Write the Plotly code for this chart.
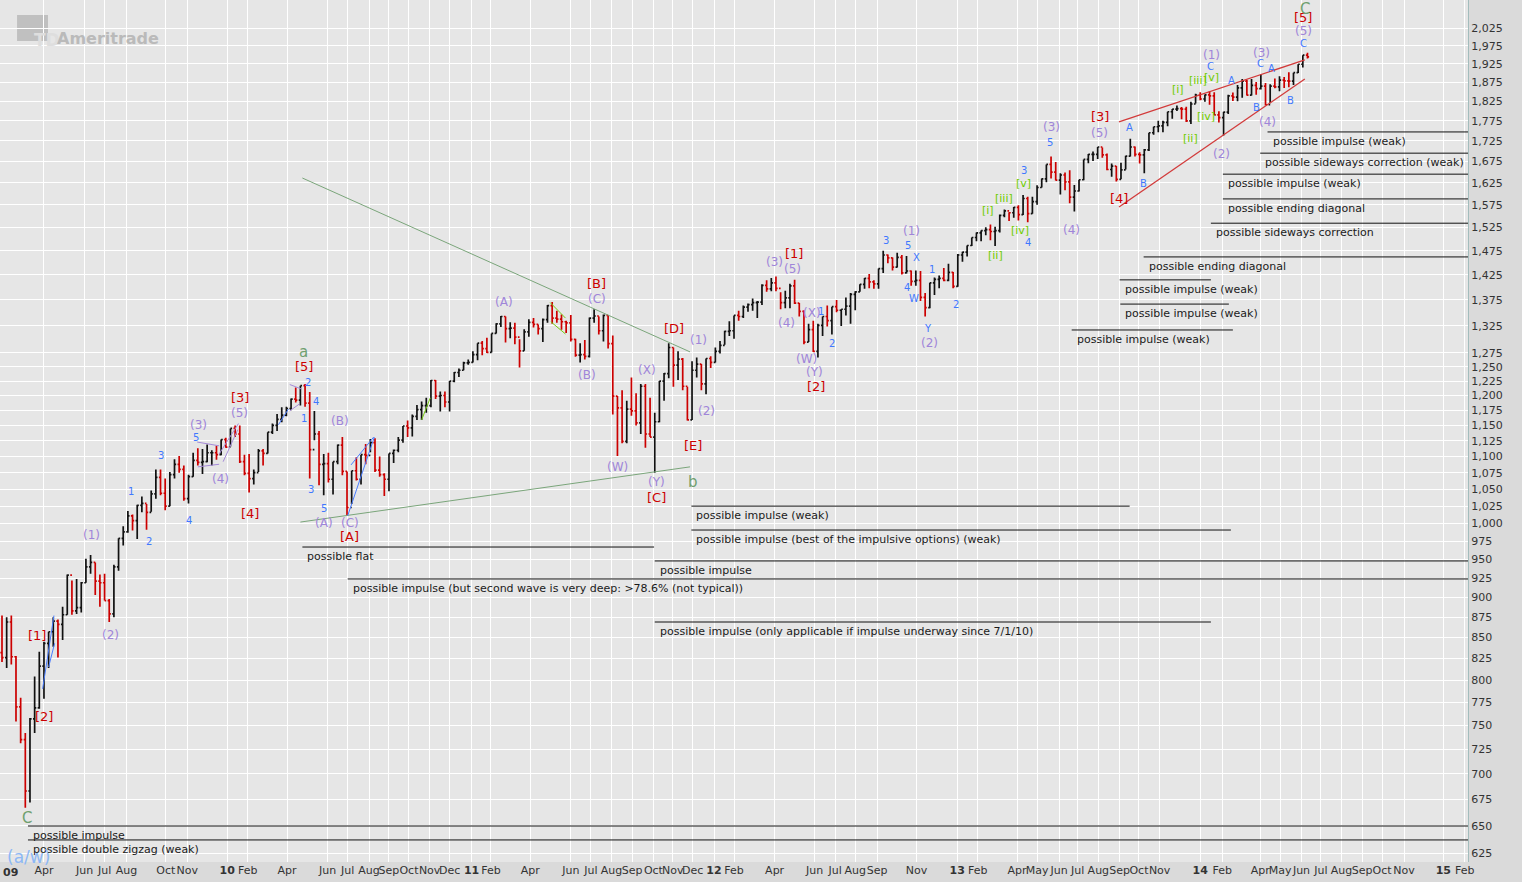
import math
import pandas as pd
import plotly.graph_objects as go

# weekly S&P 500 bars (one bar per week)
first_open = 832

high_2009 = [877, 875, 877, 828, 780, 742, 758, 804, 833, 845, 857, 875, 872, 888, 930, 922, 924,
             920, 951, 956, 946, 930, 931, 898, 943, 979, 996, 1018, 1013, 1027, 1039, 1028, 1048,
             1080, 1080, 1066, 1076, 1096, 1101, 1086, 1072, 1106, 1113, 1112, 1119, 1110, 1117,
             1127, 1130]
low_2009 = [821, 814, 818, 754, 731, 667, 672, 742, 768, 779, 814, 839, 826, 847, 878, 878, 879,
            881, 919, 931, 903, 888, 896, 869, 875, 935, 969, 987, 990, 978, 1016, 991, 1017, 1036,
            1041, 1019, 1025, 1066, 1075, 1033, 1029, 1069, 1086, 1073, 1091, 1086, 1095, 1102, 1114]
close_2009 = [826, 869, 827, 770, 735, 683, 757, 769, 816, 843, 857, 870, 866, 878, 929, 883, 887,
              919, 940, 946, 921, 919, 896, 879, 940, 979, 988, 1011, 1004, 1026, 1029, 1016, 1043,
              1068, 1044, 1025, 1072, 1088, 1080, 1036, 1069, 1094, 1091, 1092, 1106, 1106, 1103,
              1127, 1115]

high_2010 = [1145, 1150, 1150, 1103, 1104, 1080, 1112, 1112, 1139, 1153, 1169, 1180, 1181, 1195,
             1214, 1217, 1220, 1206, 1174, 1141, 1104, 1106, 1092, 1119, 1131, 1077, 1078, 1099,
             1103, 1120, 1128, 1129, 1100, 1074, 1105, 1111, 1131, 1149, 1158, 1168, 1184, 1190,
             1196, 1227, 1227, 1207, 1207, 1225, 1241, 1247, 1259, 1263]
low_2010 = [1116, 1131, 1090, 1071, 1045, 1057, 1076, 1086, 1105, 1136, 1141, 1155, 1165, 1175,
            1188, 1183, 1181, 1066, 1126, 1056, 1041, 1060, 1042, 1088, 1071, 1011, 1028, 1063,
            1057, 1088, 1107, 1076, 1069, 1040, 1047, 1090, 1107, 1122, 1131, 1132, 1159, 1159,
            1171, 1180, 1194, 1173, 1180, 1173, 1223, 1232, 1244, 1254]
close_2010 = [1145, 1136, 1092, 1074, 1066, 1075, 1109, 1105, 1139, 1150, 1160, 1167, 1178, 1194,
              1192, 1217, 1187, 1111, 1136, 1088, 1089, 1065, 1092, 1118, 1077, 1023, 1078, 1065,
              1103, 1102, 1122, 1079, 1072, 1065, 1105, 1110, 1126, 1149, 1146, 1165, 1176, 1183,
              1183, 1226, 1199, 1200, 1189, 1225, 1240, 1244, 1257, 1258]

high_2011 = [1278, 1293, 1297, 1303, 1311, 1330, 1344, 1343, 1332, 1331, 1300, 1319, 1338, 1340,
             1328, 1339, 1365, 1371, 1354, 1347, 1335, 1346, 1301, 1293, 1299, 1341, 1357, 1343,
             1347, 1346, 1307, 1199, 1209, 1191, 1231, 1204, 1220, 1220, 1196, 1171, 1225, 1239,
             1293, 1285, 1278, 1266, 1215, 1260, 1267, 1255, 1265, 1269]
low_2011 = [1258, 1262, 1271, 1275, 1276, 1311, 1323, 1294, 1302, 1291, 1249, 1279, 1305, 1322,
            1309, 1295, 1331, 1329, 1331, 1318, 1312, 1296, 1268, 1258, 1263, 1267, 1331, 1309,
            1296, 1283, 1168, 1101, 1121, 1121, 1166, 1150, 1136, 1114, 1131, 1075, 1155, 1191,
            1230, 1215, 1227, 1209, 1158, 1159, 1231, 1209, 1202, 1248]
close_2011 = [1272, 1293, 1283, 1276, 1311, 1329, 1343, 1320, 1321, 1304, 1279, 1314, 1332, 1328,
              1320, 1337, 1364, 1340, 1338, 1333, 1331, 1300, 1271, 1272, 1269, 1340, 1344, 1316,
              1345, 1292, 1199, 1179, 1124, 1177, 1174, 1154, 1216, 1136, 1131, 1156, 1225, 1238,
              1285, 1253, 1264, 1216, 1159, 1244, 1255, 1220, 1265, 1258]

high_2012 = [1285, 1297, 1316, 1334, 1345, 1354, 1364, 1368, 1378, 1373, 1406, 1414, 1419, 1422,
             1390, 1393, 1407, 1415, 1369, 1355, 1329, 1335, 1329, 1343, 1364, 1362, 1375, 1357,
             1380, 1389, 1392, 1406, 1419, 1427, 1414, 1438, 1475, 1467, 1461, 1471, 1466, 1464,
             1434, 1434, 1433, 1389, 1409, 1420, 1424, 1439, 1448, 1431]
low_2012 = [1258, 1274, 1290, 1306, 1301, 1335, 1340, 1352, 1354, 1340, 1365, 1391, 1392, 1392,
            1357, 1359, 1359, 1367, 1343, 1291, 1295, 1277, 1267, 1306, 1324, 1309, 1351, 1325,
            1345, 1329, 1355, 1391, 1397, 1398, 1397, 1397, 1429, 1449, 1434, 1440, 1426, 1428,
            1403, 1403, 1373, 1343, 1359, 1385, 1398, 1412, 1412, 1398]
close_2012 = [1278, 1289, 1315, 1316, 1345, 1343, 1361, 1366, 1370, 1371, 1404, 1397, 1409, 1398,
              1370, 1379, 1403, 1369, 1353, 1295, 1318, 1278, 1326, 1343, 1335, 1362, 1355, 1357,
              1363, 1386, 1391, 1406, 1418, 1411, 1407, 1438, 1466, 1460, 1441, 1461, 1429, 1433,
              1412, 1414, 1380, 1360, 1409, 1416, 1418, 1414, 1430, 1402]

high_2013 = [1468, 1473, 1486, 1503, 1514, 1518, 1525, 1531, 1526, 1553, 1564, 1558, 1570, 1574,
             1597, 1593, 1593, 1619, 1635, 1668, 1687, 1674, 1647, 1649, 1654, 1620, 1632, 1680,
             1693, 1699, 1710, 1709, 1694, 1670, 1664, 1672, 1689, 1730, 1711, 1697, 1705, 1745,
             1760, 1775, 1775, 1798, 1805, 1814, 1810, 1811, 1824, 1845]
low_2013 = [1401, 1452, 1463, 1485, 1495, 1495, 1508, 1497, 1485, 1514, 1547, 1539, 1546, 1540,
            1552, 1536, 1555, 1575, 1614, 1626, 1635, 1630, 1598, 1608, 1578, 1560, 1605, 1631,
            1671, 1676, 1681, 1684, 1654, 1639, 1628, 1633, 1656, 1687, 1687, 1670, 1647, 1700,
            1740, 1746, 1746, 1761, 1780, 1800, 1779, 1772, 1767, 1819]
close_2013 = [1466, 1472, 1486, 1503, 1513, 1518, 1520, 1516, 1518, 1551, 1561, 1557, 1569, 1553,
              1589, 1555, 1582, 1614, 1634, 1668, 1650, 1631, 1643, 1627, 1592, 1606, 1632, 1680,
              1692, 1692, 1710, 1691, 1656, 1664, 1633, 1655, 1688, 1710, 1692, 1691, 1703, 1745,
              1760, 1762, 1771, 1798, 1805, 1806, 1805, 1775, 1818, 1841]

high_2014 = [1849, 1843, 1851, 1849, 1799, 1798, 1842, 1848, 1868, 1884, 1882, 1884, 1876, 1897,
             1873, 1870, 1885, 1891, 1889, 1902, 1901, 1924, 1949, 1956]
low_2014 = [1828, 1824, 1816, 1790, 1771, 1738, 1792, 1826, 1825, 1834, 1840, 1840, 1842, 1856,
            1814, 1820, 1859, 1851, 1860, 1862, 1868, 1900, 1915, 1940]
close_2014 = [1831, 1842, 1839, 1790, 1783, 1797, 1839, 1836, 1860, 1878, 1841, 1867, 1858, 1865,
              1816, 1865, 1863, 1881, 1879, 1878, 1901, 1924, 1949, 1944]

# x-axis months that carry a label + gridline
tick_months = ["2009-04", "2009-06", "2009-07", "2009-08", "2009-10", "2009-11",
               "2010-01", "2010-02", "2010-04", "2010-06", "2010-07", "2010-08", "2010-09",
               "2010-10", "2010-11", "2010-12",
               "2011-01", "2011-02", "2011-04", "2011-06", "2011-07", "2011-08", "2011-09",
               "2011-10", "2011-11", "2011-12",
               "2012-01", "2012-02", "2012-04", "2012-06", "2012-07", "2012-08", "2012-09",
               "2012-11",
               "2013-01", "2013-02", "2013-04", "2013-05", "2013-06", "2013-07", "2013-08",
               "2013-09", "2013-10", "2013-11",
               "2014-01", "2014-02", "2014-04", "2014-05", "2014-06", "2014-07", "2014-08",
               "2014-09", "2014-10", "2014-11",
               "2015-01", "2015-02"]

y_ticks = [625, 650, 675, 700, 725, 750, 775, 800, 825, 850, 875, 900, 925, 950, 975, 1000,
           1025, 1050, 1075, 1100, 1125, 1150, 1175, 1200, 1225, 1250, 1275, 1325, 1375, 1425,
           1475, 1525, 1575, 1625, 1675, 1725, 1775, 1825, 1875, 1925, 1975, 2025]

# wave labels: (text, date, price)
red_labels = [("[1]", "2009-03-21", 852), ("[2]", "2009-04-01", 759), ("[3]", "2010-01-20", 1197),
              ("[4]", "2010-02-04", 1015), ("[5]", "2010-04-27", 1250), ("[A]", "2010-07-04", 981),
              ("[B]", "2011-07-10", 1407), ("[C]", "2011-10-07", 1037), ("[D]", "2011-11-03", 1321),
              ("[E]", "2011-12-01", 1117), ("[1]", "2012-05-01", 1470), ("[2]", "2012-06-03", 1215),
              ("[3]", "2013-08-03", 1785), ("[4]", "2013-09-01", 1588), ("[5]", "2014-06-05", 2057)]
purple_labels = [("(1)", "2009-06-12", 984), ("(2)", "2009-07-10", 853), ("(3)", "2009-11-19", 1150),
                 ("(4)", "2009-12-22", 1065), ("(5)", "2010-01-19", 1170), ("(A)", "2010-05-27", 1001),
                 ("(B)", "2010-06-19", 1157), ("(C)", "2010-07-04", 1001), ("(A)", "2011-02-20", 1371),
                 ("(C)", "2011-07-10", 1377), ("(B)", "2011-06-26", 1236), ("(W)", "2011-08-10", 1084),
                 ("(X)", "2011-09-23", 1245), ("(Y)", "2011-10-07", 1061), ("(1)", "2011-12-10", 1299),
                 ("(2)", "2011-12-22", 1174), ("(3)", "2012-04-02", 1451), ("(5)", "2012-04-29", 1437),
                 ("(4)", "2012-04-20", 1331), ("(X)", "2012-05-28", 1350), ("(W)", "2012-05-20", 1264),
                 ("(Y)", "2012-06-01", 1241), ("(1)", "2012-10-25", 1517), ("(2)", "2012-11-20", 1293),
                 ("(3)", "2013-05-23", 1759), ("(4)", "2013-06-22", 1519), ("(5)", "2013-08-03", 1744),
                 ("(1)", "2014-01-18", 1949), ("(2)", "2014-02-02", 1693), ("(3)", "2014-04-03", 1955),
                 ("(4)", "2014-04-12", 1772), ("(5)", "2014-06-05", 2018)]
blue_labels = [("1", "2009-08-09", 1046), ("2", "2009-09-05", 975), ("3", "2009-09-23", 1102),
               ("4", "2009-11-05", 1004), ("5", "2009-11-16", 1130), ("2", "2010-05-02", 1222),
               ("4", "2010-05-14", 1189), ("1", "2010-04-27", 1161), ("3", "2010-05-07", 1050),
               ("5", "2010-05-26", 1021), ("1", "2012-06-10", 1352), ("2", "2012-06-27", 1292),
               ("3", "2012-09-16", 1496), ("5", "2012-10-19", 1487), ("X", "2012-11-01", 1460),
               ("4", "2012-10-17", 1399), ("W", "2012-10-28", 1377), ("1", "2012-11-25", 1437),
               ("Y", "2012-11-19", 1321), ("2", "2012-12-30", 1367), ("4", "2013-04-18", 1493),
               ("3", "2013-04-12", 1653), ("5", "2013-05-20", 1722), ("A", "2013-09-17", 1757),
               ("B", "2013-10-08", 1624), ("C", "2014-01-17", 1919), ("A", "2014-02-17", 1881),
               ("C", "2014-04-02", 1925), ("A", "2014-04-18", 1911), ("B", "2014-03-27", 1810),
               ("B", "2014-05-17", 1828), ("C", "2014-06-05", 1983)]
lime_labels = [("[i]", "2013-02-17", 1561), ("[ii]", "2013-02-27", 1464), ("[iii]", "2013-03-13", 1588),
               ("[iv]", "2013-04-06", 1519), ("[v]", "2013-04-11", 1624), ("[i]", "2013-11-28", 1857),
               ("[ii]", "2013-12-17", 1732), ("[iii]", "2013-12-29", 1879), ("[iv]", "2014-01-09", 1785),
               ("[v]", "2014-01-18", 1889)]
green_labels = [("C", "2009-03-06", 657), ("a", "2010-04-26", 1277), ("b", "2011-12-01", 1061),
                ("C", "2014-06-08", 2083)]
sky_labels = [("(a/w)", "2009-03-09", 622)]

# drawn trend lines: ((date, price), (date, price))
green_lines = [(("2010-04-24", 1636), ("2011-11-27", 1277)),
               (("2010-04-21", 1002), ("2011-11-27", 1084))]
red_lines = [(("2013-09-01", 1772), ("2014-06-07", 1936)),
             (("2013-09-01", 1570), ("2014-06-07", 1884))]
blue_lines = [(("2009-03-30", 790), ("2009-04-16", 877)), (("2009-04-08", 815), ("2009-04-17", 843)),
              (("2010-07-01", 1011), ("2010-08-10", 1131)), (("2010-07-06", 1087), ("2010-08-09", 1131)),
              (("2010-03-19", 1151), ("2010-04-03", 1177))]
purple_lines = [(("2009-11-17", 1123), ("2009-12-20", 1117)), (("2009-11-18", 1084), ("2009-12-20", 1088)),
                (("2009-12-20", 1104), ("2010-01-18", 1153)), (("2009-12-26", 1092), ("2010-01-17", 1143)),
                (("2010-04-05", 1219), ("2010-04-23", 1211)), (("2010-04-05", 1174), ("2010-04-20", 1186))]
lime_lines = [(("2010-10-20", 1159), ("2010-11-02", 1196)), (("2011-05-01", 1370), ("2011-05-24", 1340)),
              (("2011-05-02", 1333), ("2011-05-24", 1310))]

# "possible ..." levels: (text, start, end or None = to the right edge, price)
count_levels = [
    ("possible impulse (weak)", "2014-04-12", None, 1747),
    ("possible sideways correction (weak)", "2014-04-01", None, 1695),
    ("possible impulse (weak)", "2014-02-04", None, 1645),
    ("possible ending diagonal", "2014-02-04", None, 1588),
    ("possible sideways correction", "2014-01-17", None, 1534),
    ("possible ending diagonal", "2013-10-08", None, 1462),
    ("possible impulse (weak)", "2013-09-02", "2014-01-17", 1415),
    ("possible impulse (weak)", "2013-09-03", "2014-02-13", 1367),
    ("possible impulse (weak)", "2013-06-22", "2014-02-19", 1317.5),
    ("possible impulse (weak)", "2011-11-29", "2013-09-17", 1025),
    ("possible impulse (best of the impulsive options) (weak)", "2011-11-29", "2014-02-16", 990.7),
    ("possible flat", "2010-04-24", "2011-10-04", 967),
    ("possible impulse", "2011-10-05", None, 948),
    ("possible impulse (but second wave is very deep: >78.6% (not typical))", "2010-07-01", None, 924),
    ("possible impulse (only applicable if impulse underway since 7/1/10)", "2011-10-05", "2014-01-17", 869),
    ("possible impulse", "2009-03-08", None, 649.8),
    ("possible double zigzag (weak)", "2009-03-08", None, 637),
]

x_start, x_end = "2009-01-25", "2015-02-07"

closes = close_2009 + close_2010 + close_2011 + close_2012 + close_2013 + close_2014
highs = high_2009 + high_2010 + high_2011 + high_2012 + high_2013 + high_2014
lows = low_2009 + low_2010 + low_2011 + low_2012 + low_2013 + low_2014
opens = [first_open] + closes[:-1]
weeks = pd.date_range("2009-01-28", periods=len(closes), freq="7D")

fig = go.Figure()
fig.add_trace(go.Ohlc(
    x=weeks, open=opens, high=highs, low=lows, close=closes,
    increasing=dict(line=dict(color="#111111", width=1.7)),
    decreasing=dict(line=dict(color="#cc0000", width=1.7)),
    tickwidth=0.35, hoverinfo="skip",
))


def add_segments(segs, color, width=1):
    xs, ys = [], []
    for (xa, ya), (xb, yb) in segs:
        xs += [xa, xb, None]
        ys += [ya, yb, None]
    fig.add_trace(go.Scatter(x=xs, y=ys, mode="lines", hoverinfo="skip",
                             line=dict(color=color, width=width)))


add_segments(green_lines, "#7aa57a")
add_segments(red_lines, "#d23a3a", 1.3)
add_segments(blue_lines, "#4a7dff")
add_segments(purple_lines, "#a58ad8")
add_segments(lime_lines, "#77cc11")
add_segments([((s, p), (e or x_end, p)) for _, s, e, p in count_levels], "#111111")

for text, s, e, p in count_levels:
    fig.add_annotation(x=s, y=math.log10(p), text=text, showarrow=False,
                       xanchor="left", yanchor="top", xshift=3, yshift=-1,
                       font=dict(size=11, color="#1a1a1a"))

styles = [(red_labels, "#cc0000", 13), (purple_labels, "#9f85d9", 12),
          (blue_labels, "#3f78ff", 10), (lime_labels, "#6fcc00", 11),
          (green_labels, "#6f9f6f", 15), (sky_labels, "#8db8f5", 17)]
for labels, color, size in styles:
    for text, d, p in labels:
        fig.add_annotation(x=d, y=math.log10(p), text=text, showarrow=False,
                           font=dict(size=size, color=color))

# x tick labels: bold two-digit year on January, month name otherwise
tickvals, ticktext = [], []
for m in tick_months:
    d = pd.Timestamp(m + "-01")
    while d.weekday() >= 5:
        d += pd.Timedelta(days=1)
    tickvals.append(d)
    ticktext.append(f"<b>{d:%y}</b>" if d.month == 1 else f"{d:%b}")

fig.add_annotation(xref="paper", yref="paper", x=0.001, y=0, yshift=-2, xanchor="left",
                   yanchor="top", text="<b>09</b>", showarrow=False,
                   font=dict(size=11, color="#333333"))

# TD Ameritrade watermark
fig.add_shape(type="rect", xref="paper", yref="paper", x0=0.0116, x1=0.0327, y0=0.9524, y1=0.9826,
              fillcolor="#c0c0c0", line_width=0, layer="below")
fig.add_annotation(xref="paper", yref="paper", x=0.0221, y=0.9675, text="<b>TD</b>",
                   showarrow=False, font=dict(size=17, color="#dedede"))
fig.add_annotation(xref="paper", yref="paper", x=0.0375, y=0.9687, xanchor="left",
                   text="<b>Ameritrade</b>", showarrow=False,
                   font=dict(size=16, color="#bababa"))

fig.update_layout(
    width=1522, height=882,
    margin=dict(l=0, r=54, t=0, b=20),
    showlegend=False, hovermode=False,
    plot_bgcolor="#e6e6e6", paper_bgcolor="#dadada",
    font=dict(family="DejaVu Sans", size=11, color="#333333"),
)
fig.update_xaxes(type="date", range=[x_start, x_end], rangeslider_visible=False,
                 tickvals=tickvals, ticktext=ticktext, tickangle=0,
                 showgrid=True, gridcolor="#ffffff", gridwidth=1.3,
                 zeroline=False, ticks="", automargin=False,
                 tickfont=dict(size=11, color="#333333"))
fig.update_yaxes(type="log", range=[math.log10(617.3), math.log10(2108.4)], side="right",
                 tickvals=y_ticks, ticktext=[f"{v:,}" for v in y_ticks],
                 showgrid=True, gridcolor="#ffffff", gridwidth=1.3, zeroline=False,
                 showline=True, linecolor="#a3bcbc", linewidth=1, ticks="",
                 automargin=False, tickfont=dict(size=11, color="#333333"))

# drop the page's default 8px body margin so the chart fills the window
fig.write_html("out.html", config={"displayModeBar": False},
               post_script="document.body.style.margin='0';document.body.style.overflow='hidden';")
